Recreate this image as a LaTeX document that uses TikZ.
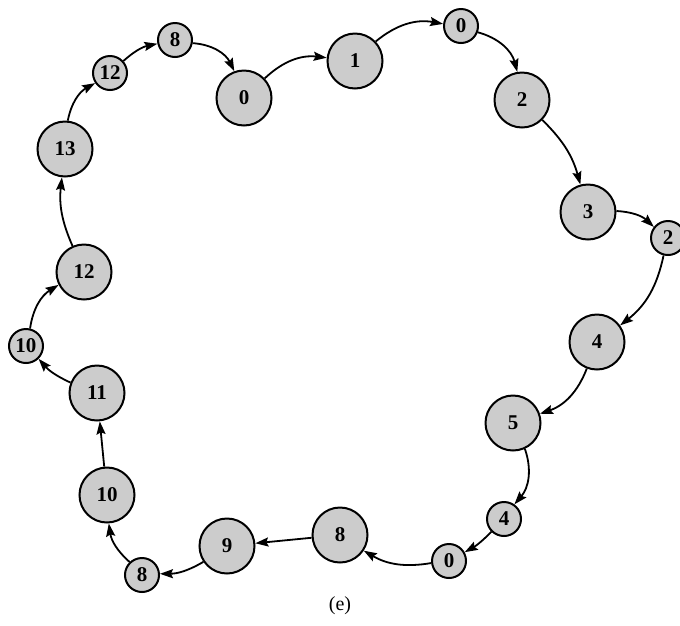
\documentclass[tikz,border=0pt]{standalone}
\usepackage{fontspec}
\setmainfont{Liberation Serif}
\usetikzlibrary{arrows.meta}
\begin{document}
\begin{tikzpicture}[x=1pt,y=-1pt,
  nd/.style={circle,draw,line width=2pt,fill=gray!40,inner sep=0pt,
    font=\fontsize{21}{21}\selectfont\bfseries},
  big/.style={nd,minimum size=55pt},
  sml/.style={nd,minimum size=34pt},
  arr/.style={-{Stealth[length=13pt,width=9pt,inset=2pt]},line width=1.8pt}]
\useasboundingbox (0,0) rectangle (680,625);
\node[big] (b0) at (244,98) {0};
\node[big] (b1) at (355,61) {1};
\node[sml] (s0a) at (461,26) {0};
\node[big] (b2) at (522,100) {2};
\node[big] (b3) at (588,212) {3};
\node[sml] (s2) at (668,238) {2};
\node[big] (b4) at (597,342) {4};
\node[big] (b5) at (513,423) {5};
\node[sml] (s4) at (504,519) {4};
\node[sml] (s0b) at (449,561) {0};
\node[big] (b8) at (340,535) {8};
\node[big] (b9) at (227,546) {9};
\node[sml] (s8b) at (142,575) {8};
\node[big] (b10) at (107,495) {10};
\node[big] (b11) at (97,393) {11};
\node[sml] (s10) at (26,346) {10};
\node[big] (b12) at (84,272) {12};
\node[big] (b13) at (65,149) {13};
\node[sml] (s12) at (110,73) {12};
\node[sml] (s8a) at (175,40) {8};
\node[font=\fontsize{20}{20}\selectfont] (lab) at (340,606) {(e)};
\draw[arr] (s8b) to[bend left=20] (b10);
\draw[arr] (b10) -- (b11);
\draw[arr] (b11) to[bend left=12] (s10);
\draw[arr] (s10) to[bend left=25] (b12);
\draw[arr] (b12) to[bend left=15] (b13);
\draw[arr] (b13) to[bend left=25] (s12);
\draw[arr] (s12) to[bend left=15] (s8a);
\draw[arr] (s8a) to[bend left=30] (b0);
\draw[arr] (b0) to[bend left=25] (b1);
\draw[arr] (b1) to[bend left=25] (s0a);
\draw[arr] (s0a) to[bend left=30] (b2);
\draw[arr] (b2) to[bend left=15] (b3);
\draw[arr] (b3) to[bend left=20] (s2);
\draw[arr] (s2) to[bend left=20] (b4);
\draw[arr] (b4) to[bend left=25] (b5);
\draw[arr] (b5) to[bend left=30] (s4);
\draw[arr] (s4) to[bend left=8] (s0b);
\draw[arr] (s0b) to[bend left=20] (b8);
\draw[arr] (b8) -- (b9);
\draw[arr] (b9) to[bend left=15] (s8b);
\end{tikzpicture}
\end{document}
